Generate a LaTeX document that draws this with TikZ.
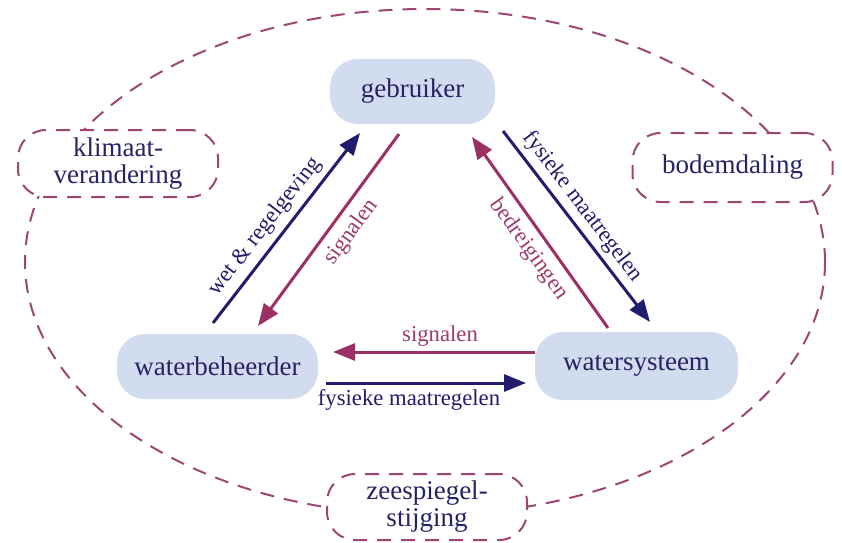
\documentclass[tikz,border=0pt]{standalone}
\usepackage{fontspec}
\setmainfont{Liberation Serif}
\usetikzlibrary{arrows.meta}
\definecolor{navy}{HTML}{221C6C}
\definecolor{plum}{HTML}{9B3064}
\definecolor{plumtxt}{HTML}{9C3A6C}
\definecolor{dashc}{HTML}{9E4673}
\definecolor{boxfill}{HTML}{D1DDEE}
\definecolor{txt}{HTML}{262266}
\begin{document}
\begin{tikzpicture}[x=1pt,y=-1pt,
  actor/.style={rectangle, rounded corners=28pt, fill=boxfill, draw=none, text=txt,
    font=\fontsize{27}{29}\selectfont, inner sep=0pt, minimum height=65pt},
  factor/.style={rectangle, rounded corners=28pt, draw=dashc, line width=2pt,
    dash pattern=on 14pt off 10pt, fill=white, text=txt,
    font=\fontsize{27}{27}\selectfont, align=center, inner sep=0pt,
    minimum width=200pt, minimum height=67pt},
  outline/.style={draw=dashc, line width=2pt, dash pattern=on 14pt off 10pt},
  navyarrow/.style={draw=navy, line width=3pt, -{Triangle[length=22pt,width=17pt]}},
  plumarrow/.style={draw=plum, line width=3pt, -{Triangle[length=22pt,width=17pt]}},
  navylbl/.style={text=navy, font=\fontsize{22.7}{25}\selectfont, inner sep=3pt, sloped},
  plumlbl/.style={text=plumtxt, font=\fontsize{22.7}{25}\selectfont, inner sep=3pt, sloped}
]
\useasboundingbox (0,0) rectangle (842,542);

% outer dashed loop
\draw[outline] (425,262) ellipse [x radius=400pt, y radius=253pt];

% external factors
\node[factor] (klimaat) at (118,163.5) {klimaat-\\verandering};
\node[factor] (bodem) at (732.5,167.5) [minimum height=69pt] {bodemdaling};
\node[factor] (zee) at (427,507) [minimum height=66pt] {zeespiegel-\\stijging};

% actors
\node[actor, minimum width=165pt] (geb) at (412.5,91.5) {gebruiker};
\node[actor, minimum width=201pt] (wbh) at (217.5,366.5) {waterbeheerder};
\node[actor, minimum width=203pt, minimum height=68pt] (wsys) at (636.5,366) {watersysteem};

% arrow end points
\coordinate (wetS) at (213,323);   \coordinate (wetE) at (360,133);
\coordinate (sigLS) at (399,134);  \coordinate (sigLE) at (258,326);
\coordinate (bedS) at (608,328);   \coordinate (bedE) at (472,137);
\coordinate (fysRS) at (503,131);  \coordinate (fysRE) at (650,322);
\coordinate (sigBS) at (535,352);  \coordinate (sigBE) at (333,352);
\coordinate (fysBS) at (326,383);  \coordinate (fysBE) at (526,383);

\draw[navyarrow] (wetS) -- (wetE)
  node[navylbl, pos=0.45, above=3pt] {wet \& regelgeving};
\draw[plumarrow] (sigLS) -- (sigLE)
  node[plumlbl, pos=0.45, below=5pt] {signalen};
\draw[plumarrow] (bedS) -- (bedE)
  node[plumlbl, pos=0.47, below=4pt] {bedreigingen};
\draw[navyarrow] (fysRS) -- (fysRE)
  node[navylbl, pos=0.45, above=2pt] {fysieke maatregelen};
\draw[plumarrow] (sigBS) -- (sigBE)
  node[plumlbl, pos=0.47, above=1pt] {signalen};
\draw[navyarrow] (fysBS) -- (fysBE)
  node[navylbl, pos=0.415, below=2pt] {fysieke maatregelen};
\end{tikzpicture}
\end{document}
